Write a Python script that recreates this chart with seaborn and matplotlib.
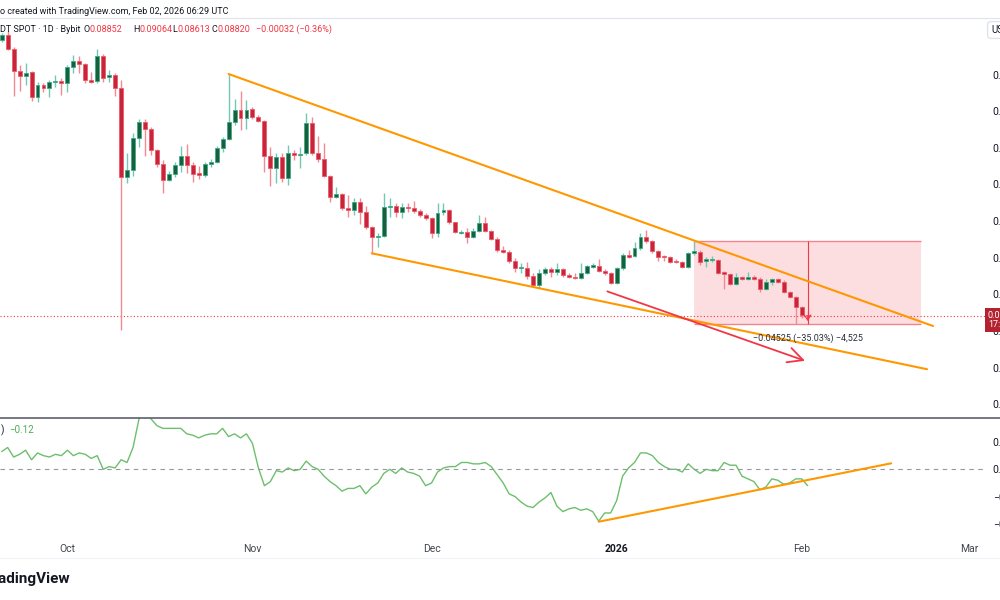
import numpy as np
import pandas as pd
import matplotlib
matplotlib.use("Agg")
import matplotlib.pyplot as plt
import matplotlib.dates as mdates
from matplotlib.lines import Line2D
from matplotlib.patches import Rectangle
import seaborn as sns

# Daily candles, Sep 20 2025 .. Feb 02 2026
dates = pd.date_range("2025-09-20", periods=136, freq="D")

opens = [.2389, .2416, .2340, .2219, .2192, .2214, .2077, .2143, .2127, .2159,
         .2165, .2154, .2241, .2274, .2258, .2170, .2165, .2301, .2187, .2198,
         .2127, .1641, .1679, .1854, .1941, .1903, .1788, .1712, .1624, .1657,
         .1706, .1755, .1706, .1662, .1652, .1712, .1722, .1799, .1848, .1941,
         .2006, .1963, .2012, .1968, .1946, .1755, .1690, .1750, .1635, .1772,
         .1761, .1772, .1935, .1772, .1739, .1646, .1531, .1548, .1471, .1460,
         .1504, .1450, .1368, .1313, .1318, .1477, .1482, .1450, .1477, .1471,
         .1455, .1433, .1417, .1335, .1450, .1460, .1395, .1335, .1340, .1313,
         .1346, .1389, .1346, .1302, .1242, .1231, .1182, .1144, .1144, .1100,
         .1051, .1116, .1138, .1122, .1138, .1106, .1095, .1089, .1116, .1149,
         .1155, .1127, .1116, .1062, .1144, .1215, .1209, .1253, .1313, .1291,
         .1237, .1209, .1204, .1182, .1177, .1149, .1226, .1231, .1182, .1187,
         .1187, .1122, .1111, .1056, .1095, .1084, .1095, .1084, .1029, .1067,
         .1084, .1067, .1013, .0985, .0931, .08852]
highs = [.2427, .2443, .2351, .2252, .2263, .2219, .2159, .2154, .2170, .2198,
         .2181, .2252, .2307, .2301, .2263, .2214, .2340, .2312, .2225, .2209,
         .2170, .1772, .1881, .1957, .1957, .1914, .1793, .1733, .1673, .1722,
         .1810, .1821, .1722, .1701, .1722, .1739, .1810, .1859, .2203, .2066,
         .2110, .2061, .2023, .1979, .1952, .1804, .1772, .1772, .1815, .1788,
         .1804, .1990, .1968, .1864, .1826, .1652, .1586, .1553, .1542, .1526,
         .1526, .1482, .1373, .1335, .1553, .1526, .1499, .1499, .1499, .1510,
         .1466, .1444, .1422, .1499, .1499, .1466, .1395, .1351, .1362, .1362,
         .1433, .1422, .1351, .1313, .1264, .1242, .1198, .1171, .1177, .1116,
         .1138, .1149, .1149, .1171, .1144, .1116, .1116, .1171, .1160, .1171,
         .1193, .1138, .1122, .1149, .1226, .1242, .1286, .1335, .1351, .1297,
         .1242, .1215, .1209, .1193, .1182, .1231, .1292, .1242, .1204, .1209,
         .1193, .1125, .1116, .1116, .1100, .1122, .1106, .1095, .1084, .1089,
         .1089, .1078, .1018, .0991, .0936, .09064]
lows = [.2378, .2334, .2083, .2110, .2143, .2056, .2050, .2105, .2077, .2132,
        .2088, .2105, .2209, .2209, .2154, .2154, .2154, .2159, .2159, .2083,
        .0805, .1608, .1646, .1804, .1755, .1761, .1695, .1553, .1619, .1641,
        .1668, .1662, .1613, .1630, .1641, .1695, .1717, .1777, .1843, .1925,
        .1897, .1903, .1957, .1941, .1668, .1591, .1608, .1613, .1597, .1733,
        .1690, .1761, .1761, .1722, .1641, .1504, .1526, .1460, .1422, .1433,
        .1384, .1357, .1220, .1258, .1313, .1422, .1422, .1417, .1450, .1444,
        .1422, .1406, .1308, .1313, .1433, .1384, .1335, .1329, .1280, .1308,
        .1340, .1340, .1297, .1231, .1226, .1171, .1122, .1116, .1084, .1040,
        .1035, .1106, .1095, .1106, .1095, .1089, .1084, .1084, .1111, .1144,
        .1122, .1106, .1056, .1056, .1133, .1198, .1204, .1242, .1280, .1226,
        .1182, .1182, .1171, .1171, .1144, .1144, .1215, .1160, .1149, .1177,
        .1111, .1029, .1051, .1051, .1078, .1078, .1078, .1013, .1024, .1051,
        .1062, .1007, .0980, .0839, .0871, .08613]
closes = [.2416, .2340, .2219, .2192, .2208, .2077, .2143, .2127, .2159, .2165,
          .2154, .2241, .2274, .2258, .2170, .2159, .2301, .2181, .2198, .2127,
          .1641, .1679, .1854, .1941, .1903, .1788, .1712, .1624, .1657, .1706,
          .1755, .1706, .1657, .1652, .1712, .1722, .1799, .1848, .1941, .2006,
          .1963, .2006, .1968, .1946, .1755, .1690, .1750, .1635, .1772, .1761,
          .1766, .1935, .1772, .1739, .1646, .1531, .1548, .1471, .1460, .1504,
          .1450, .1368, .1313, .1318, .1477, .1482, .1450, .1477, .1471, .1455,
          .1433, .1417, .1335, .1444, .1460, .1395, .1340, .1340, .1313, .1346,
          .1389, .1346, .1302, .1242, .1231, .1182, .1144, .1149, .1100, .1051,
          .1116, .1138, .1122, .1138, .1106, .1095, .1089, .1116, .1155, .1160,
          .1127, .1116, .1062, .1144, .1215, .1204, .1253, .1313, .1291, .1237,
          .1204, .1204, .1177, .1177, .1149, .1226, .1237, .1177, .1193, .1193,
          .1116, .1111, .1056, .1095, .1084, .1095, .1084, .1029, .1067, .1084,
          .1067, .1013, .0985, .0931, .0885, .08820]

# lower pane oscillator (Chaikin money flow style)
cmf = [0.13, 0.16, 0.09, 0.11, 0.14, 0.07, 0.12, 0.10, 0.09, 0.11,
       0.10, 0.14, 0.10, 0.12, 0.11, 0.08, 0.10, 0.00, 0.02, 0.01,
       0.07, 0.05, 0.16, 0.37, 0.42, 0.37, 0.32, 0.30, 0.30, 0.30,
       0.30, 0.26, 0.25, 0.23, 0.25, 0.26, 0.26, 0.30, 0.24, 0.26,
       0.23, 0.26, 0.19, 0.01, -0.12, -0.09, -0.01, -0.02, 0.01, -0.01,
       0.00, 0.06, 0.02, 0.00, -0.05, -0.09, -0.12, -0.16, -0.14, -0.14,
       -0.12, -0.18, -0.13, -0.10, -0.03, 0.00, -0.03, 0.01, -0.02, -0.03,
       -0.05, -0.12, -0.10, -0.02, 0.01, 0.02, 0.02, 0.05, 0.05, 0.04,
       0.04, 0.05, 0.02, -0.04, -0.10, -0.18, -0.20, -0.24, -0.27, -0.28,
       -0.24, -0.21, -0.17, -0.27, -0.31, -0.29, -0.28, -0.30, -0.29, -0.31,
       -0.38, -0.32, -0.32, -0.23, -0.05, 0.01, 0.05, 0.12, 0.12, 0.10,
       0.05, 0.02, 0.00, 0.00, -0.02, 0.04, 0.00, -0.03, 0.00, -0.01,
       -0.01, 0.05, 0.03, 0.03, -0.05, -0.07, -0.09, -0.15, -0.13, -0.07,
       -0.08, -0.11, -0.10, -0.07, -0.07, -0.12]

# drawings on the chart (date, value)
upper_line_dates = ["2025-10-28", "2026-02-23"]
upper_line_prices = [0.2203, 0.0827]
lower_line_dates = ["2025-11-21", "2026-02-22"]
lower_line_prices = [0.1224, 0.0591]
arrow_dates = ["2025-12-30", "2026-02-02"]
arrow_prices = [0.1021, 0.0632]
box_dates = ["2026-01-14", "2026-02-21"]
box_measure_date = "2026-02-02"
box_prices = [0.12917, 0.08392]
osc_line_dates = ["2025-12-29", "2026-02-16"]
osc_line_values = [-0.384, 0.044]

price_ticks = [0.04, 0.06, 0.08, 0.10, 0.12, 0.14, 0.16, 0.18, 0.20, 0.22]
osc_ticks = [0.2, 0.0, -0.2, -0.4]
month_ticks = ["2025-10-01", "2025-11-01", "2025-12-01", "2026-01-01", "2026-02-01", "2026-03-01"]
month_labels = ["Oct", "Nov", "Dec", "2026", "Feb", "Mar"]

# colours
GREEN_BODY, GREEN_EDGE, GREEN_WICK = "#17603a", "#3caa8c", "#74c8b3"
RED_BODY, RED_EDGE, RED_WICK = "#c7253a", "#ee5a68", "#f38a93"
ORANGE = "#ff9800"
TEXT = "#131722"

sns.set_theme(style="white")
plt.rcParams["font.family"] = ["Roboto", "DejaVu Sans"]

W, H = 1000, 600
fig = plt.figure(figsize=(10, 6), dpi=100)
fx = lambda px: px / W
fy = lambda py: 1 - py / H

ax = fig.add_axes([0, fy(417), fx(985), fy(18) - fy(417)])
axi = fig.add_axes([0, fy(540), fx(985), fy(418) - fy(540)], sharex=ax)

x = mdates.date2num(dates)
o, h, l, c = map(np.array, (opens, highs, lows, closes))
up = c >= o

# Candles
ax.vlines(x[up], l[up], h[up], color=GREEN_WICK, lw=1, zorder=3)
ax.vlines(x[~up], l[~up], h[~up], color=RED_WICK, lw=1, zorder=3)
ax.bar(x[up], (c - o)[up], bottom=o[up], width=0.66, color=GREEN_BODY,
       edgecolor=GREEN_EDGE, linewidth=0.6, zorder=4)
ax.bar(x[~up], (c - o)[~up], bottom=o[~up], width=0.66, color=RED_BODY,
       edgecolor=RED_EDGE, linewidth=0.6, zorder=4)

# Measure box
bx0, bx1 = mdates.date2num(pd.to_datetime(box_dates))
bxm = mdates.date2num(pd.Timestamp(box_measure_date))
top, bottom = box_prices
ax.add_patch(Rectangle((bx0, bottom), bx1 - bx0, top - bottom, facecolor="#f23645",
                       alpha=0.16, edgecolor="none", zorder=1))
ax.hlines([top, bottom], bx0, bx1, color="#f08590", lw=1, zorder=2)
ax.vlines(bxm, bottom, top, color="#f23645", lw=0.8, zorder=5)
ax.annotate("", xy=(bxm, bottom), xytext=(bxm, bottom + 0.005),
            arrowprops=dict(arrowstyle="->,head_length=0.3,head_width=0.2", color="#f23645", lw=0.8), zorder=5)
diff = bottom - top
ax.text(bxm, 0.0763, f"{diff:.5f} ({diff / top * 100:.2f}%) {diff / 0.00001:,.0f}".replace("-", "\u2212"),
        ha="center", va="center", fontsize=6.5, color="#2a2e39", zorder=6)

# Trend lines and arrow
ax.plot(pd.to_datetime(upper_line_dates), upper_line_prices, color=ORANGE, lw=1.5, zorder=5)
ax.plot(pd.to_datetime(lower_line_dates), lower_line_prices, color=ORANGE, lw=1.5, zorder=5)
a0, a1 = mdates.date2num(pd.to_datetime(arrow_dates))
ax.annotate("", xy=(a1, arrow_prices[1]), xytext=(a0, arrow_prices[0]),
            arrowprops=dict(arrowstyle="->,head_length=0.9,head_width=0.45", color="#f23645", lw=1.3), zorder=5)

# Last price line and label
ax.axhline(c[-1], color="#f23645", ls=(0, (1, 2)), lw=0.8, zorder=2)
ax.annotate(f"{c[-1]:.5f}\n17:30:35", xy=(1.0, c[-1]), xycoords=ax.get_yaxis_transform(),
            xytext=(2, -3), textcoords="offset points", va="center", ha="left",
            fontsize=6.5, color="white", linespacing=1.1, annotation_clip=False,
            bbox=dict(boxstyle="square,pad=0.3", fc="#b5222f", ec="none"))

# Oscillator pane
sns.lineplot(x=dates, y=cmf, ax=axi, color="#6cbf6c", lw=1)
axi.axhline(0, color="#9598a1", ls=(0, (4, 4)), lw=0.8)
axi.plot(pd.to_datetime(osc_line_dates), osc_line_values, color=ORANGE, lw=1.5)
axi.text(0.001, 0.9, ")", transform=axi.transAxes, fontsize=7, color=TEXT, va="center")
axi.text(0.009, 0.9, f"{cmf[-1]:.2f}".replace("-", "\u2212"), transform=axi.transAxes,
         fontsize=7, color="#4caf50", va="center")

# Scales
start = mdates.date2num(dates[0])
ax.set_xlim(start - 0.285, start - 0.285 + 985 / 5.97)
ax.set_ylim(0.2607 - 0.000546 * 417, 0.2607 - 0.000546 * 18)
axi.set_ylim(-0.518, 0.376)

ax.yaxis.tick_right()
ax.set_yticks(price_ticks)
ax.set_yticklabels([f"{v:.5f}" for v in price_ticks])
ax.tick_params(axis="y", length=0, pad=5.5, labelsize=7.5, labelcolor=TEXT)
ax.tick_params(axis="x", bottom=False, labelbottom=False)

axi.yaxis.tick_right()
axi.set_yticks(osc_ticks)
axi.set_yticklabels([f"{v:.2f}".replace("-", "\u2212") for v in osc_ticks])
axi.tick_params(axis="y", length=0, pad=5.5, labelsize=7.5, labelcolor=TEXT)
axi.set_xticks(mdates.date2num(pd.to_datetime(month_ticks)))
axi.set_xticklabels(month_labels)
axi.tick_params(axis="x", length=0, pad=3, labelsize=7.5, labelcolor="#434651")
axi.get_xticklabels()[3].set_fontweight("bold")
axi.get_xticklabels()[3].set_color(TEXT)
axi.set_xlabel("")
axi.set_ylabel("")

for a in (ax, axi):
    for s in a.spines.values():
        s.set_visible(False)
    a.grid(False)

# Frame lines
fig.add_artist(Line2D([0, 1], [fy(18), fy(18)], color="#e0e3eb", lw=0.8))
fig.add_artist(Line2D([0, 1], [fy(417.5), fy(417.5)], color="#5d606b", lw=1.2))
fig.add_artist(Line2D([0, 1], [fy(558), fy(558)], color="#f0f3fa", lw=0.8))

# Header
HS = 6.5
fig.text(0, fy(11), "o created with TradingView.com, Feb 02, 2026 06:29 UTC", fontsize=HS,
         color=TEXT, va="center")
fig.text(0, fy(29), "DT SPOT \u00b7 1D \u00b7 Bybit", fontsize=HS, color=TEXT, va="center")
ohlc_parts = [("O", 84, o[-1]), ("H", 133, h[-1]), ("L", 172, l[-1]), ("C", 211, c[-1])]
for lab, px, val in ohlc_parts:
    fig.text(fx(px), fy(29), lab, fontsize=HS, color=TEXT, va="center")
    fig.text(fx(px + 6), fy(29), f"{val:.5f}", fontsize=HS, color="#f23645", va="center")
chg = c[-1] - o[-1]
fig.text(fx(256), fy(29), f"{chg:.5f} ({chg / o[-1] * 100:.2f}%)".replace("-", "\u2212"),
         fontsize=HS, color="#f23645", va="center")
fig.text(fx(991), fy(30), "USDT", fontsize=7, color=TEXT, va="center",
         bbox=dict(boxstyle="round,pad=0.35", fc="white", ec="#e0e3eb"))

# Footer logo
fig.text(fx(-16), fy(579), "TradingView", fontsize=11, fontweight="bold", color=TEXT, va="center")

fig.savefig("out.png", dpi=100, facecolor="white")
